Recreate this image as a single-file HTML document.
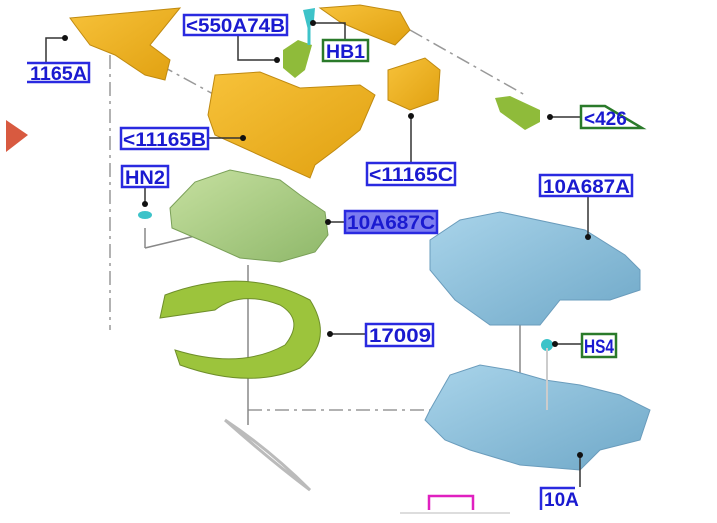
<!DOCTYPE html>
<html><head><style>
body{margin:0;background:#fff;}
svg{display:block}
.lb{font-family:"Liberation Sans",sans-serif;font-weight:bold;font-size:19px;fill:#1a1ad0}
</style></head><body>
<svg width="717" height="523" viewBox="0 0 717 523">
<defs>
<linearGradient id="or" x1="0" y1="0" x2="1" y2="1"><stop offset="0" stop-color="#f7c23a"/><stop offset="1" stop-color="#e0a010"/></linearGradient>
<linearGradient id="bl" x1="0" y1="0" x2="1" y2="1"><stop offset="0" stop-color="#a9d4ea"/><stop offset="1" stop-color="#6fa8c8"/></linearGradient>
<linearGradient id="gr" x1="0" y1="0" x2="1" y2="1"><stop offset="0" stop-color="#c6e0a0"/><stop offset="1" stop-color="#8fb86a"/></linearGradient>
</defs>
<g stroke="#999" stroke-width="1.5" fill="none" stroke-dasharray="14,5,3,5">
<line x1="110" y1="55" x2="110" y2="330"/>
<line x1="160" y1="65" x2="215" y2="95"/>
<line x1="410" y1="30" x2="525" y2="95"/>
<line x1="248" y1="410" x2="435" y2="410"/>
</g>
<g stroke="#888" stroke-width="1.5" fill="none">
<line x1="248" y1="265" x2="248" y2="425"/>
<line x1="520" y1="320" x2="520" y2="420"/>
<line x1="145" y1="228" x2="145" y2="248"/><line x1="145" y1="248" x2="220" y2="230"/>
</g>
<polygon points="6,120 28,135 6,152" fill="#d85a40"/>
<polygon points="70,18 180,8 150,45 170,60 165,80 145,75 115,55 90,45 75,25" fill="url(#or)" stroke="#c08a10"/>
<polygon points="215,75 260,72 300,88 360,85 375,95 360,130 335,150 315,165 310,178 215,135 208,115" fill="url(#or)" stroke="#c08a10"/>
<polygon points="388,70 425,58 440,70 438,100 410,110 388,100" fill="url(#or)" stroke="#c08a10"/>
<polygon points="320,8 360,5 400,12 410,30 395,45 370,35 340,22" fill="url(#or)" stroke="#c08a10"/>
<polygon points="283,50 298,40 312,45 305,70 295,78 283,68" fill="#8fbb3a"/>
<polygon points="303,10 315,8 314,20 308,30" fill="#3dc3c9"/>
<line x1="309" y1="20" x2="309" y2="45" stroke="#3dc3c9" stroke-width="3"/>
<polygon points="495,98 510,96 540,110 540,122 525,130 500,112" fill="#8fbb3a"/>
<polygon points="170,208 195,182 230,170 280,180 300,195 325,212 328,235 315,252 280,262 240,258 200,240 172,228" fill="url(#gr)" stroke="#7aa058"/>
<ellipse cx="145" cy="215" rx="7" ry="4" fill="#3dc3c9"/>
<path d="M160 318 L165 295 Q245 265 310 300 Q335 340 300 368 Q250 390 180 365 L175 350 Q240 370 285 345 Q305 320 280 305 Q240 290 215 310 Z" fill="#9cc43c" stroke="#6e8e2a"/>
<path d="M225 420 Q270 450 310 490 Q270 460 225 420" stroke="#bbb" stroke-width="3" fill="none"/>
<polygon points="430,240 460,220 500,212 585,230 625,255 640,270 640,290 610,300 560,300 540,325 490,325 455,300 430,270" fill="url(#bl)" stroke="#6a9cbc"/>
<polygon points="430,410 450,375 480,365 510,370 545,380 580,385 620,395 650,410 640,440 600,450 580,470 520,465 470,450 445,440 425,420" fill="url(#bl)" stroke="#6a9cbc"/>
<circle cx="547" cy="345" r="6" fill="#3dc3c9"/>
<line x1="547" y1="348" x2="547" y2="410" stroke="#ccc" stroke-width="2"/>
<g stroke="#333" stroke-width="1.5" fill="none">
<polyline points="27,72 46,72 46,38 65,38"/>
<polyline points="238,36 238,60 277,60"/>
<polyline points="313,23 345,23 345,40"/>
<polyline points="208,138 243,138"/>
<polyline points="145,187 145,204"/>
<line x1="328" y1="222" x2="345" y2="222"/>
<line x1="411" y1="116" x2="411" y2="163"/>
<line x1="550" y1="117" x2="581" y2="117"/>
<line x1="588" y1="196" x2="588" y2="237"/>
<line x1="330" y1="334" x2="366" y2="334"/>
<line x1="555" y1="344" x2="582" y2="344"/>
<polyline points="580,455 580,487"/>
</g>
<g fill="#111">
<circle cx="65" cy="38" r="3"/><circle cx="277" cy="60" r="3"/><circle cx="313" cy="23" r="3"/>
<circle cx="243" cy="138" r="3"/><circle cx="145" cy="204" r="3"/><circle cx="328" cy="222" r="3"/>
<circle cx="411" cy="116" r="3"/><circle cx="550" cy="117" r="3"/><circle cx="588" cy="237" r="3"/>
<circle cx="330" cy="334" r="3"/><circle cx="555" cy="344" r="3"/><circle cx="580" cy="455" r="3"/>
</g>
<g stroke-width="2.5" fill="#fff">
<polyline points="27,63 89,63 89,82 27,82" stroke="#2a2ae0"/>
<rect x="184" y="15" width="103" height="20" stroke="#2a2ae0"/>
<rect x="323" y="40" width="45" height="21" stroke="#2a7a2a"/>
<rect x="121" y="128" width="87" height="21" stroke="#2a2ae0"/>
<rect x="122" y="166" width="46" height="21" stroke="#2a2ae0"/>
<rect x="345" y="211" width="92" height="22" stroke="#2a2ae0" fill="#7d7df0"/>
<rect x="367" y="163" width="88" height="22" stroke="#2a2ae0"/>
<rect x="540" y="175" width="92" height="21" stroke="#2a2ae0"/>
<polygon points="581,106 605,106 642,128 581,128" stroke="#2a7a2a"/>
<rect x="366" y="324" width="67" height="22" stroke="#2a2ae0"/>
<rect x="582" y="334" width="34" height="23" stroke="#2a7a2a"/>
<polyline points="541,510 541,488 575,488" stroke="#2a2ae0"/>
<polyline points="429,510 429,496 473,496 473,510" stroke="#e020c0"/>
</g>
<text class="lb" x="30" y="80" textLength="57" lengthAdjust="spacingAndGlyphs">1165A</text>
<text class="lb" x="186" y="32" textLength="99" lengthAdjust="spacingAndGlyphs">&lt;550A74B</text>
<text class="lb" x="326" y="58" textLength="39" lengthAdjust="spacingAndGlyphs">HB1</text>
<text class="lb" x="123" y="146" textLength="83" lengthAdjust="spacingAndGlyphs">&lt;11165B</text>
<text class="lb" x="125" y="184" textLength="40" lengthAdjust="spacingAndGlyphs">HN2</text>
<text class="lb" x="347" y="229" textLength="88" lengthAdjust="spacingAndGlyphs">10A687C</text>
<text class="lb" x="369" y="181" textLength="84" lengthAdjust="spacingAndGlyphs">&lt;11165C</text>
<text class="lb" x="543" y="193" textLength="87" lengthAdjust="spacingAndGlyphs">10A687A</text>
<text class="lb" x="584" y="125">&lt;426</text>
<text class="lb" x="369" y="342" textLength="62" lengthAdjust="spacingAndGlyphs">17009</text>
<text class="lb" x="584" y="353" textLength="30" lengthAdjust="spacingAndGlyphs">HS4</text>
<text class="lb" x="544" y="506">10A</text>
<rect x="270" y="508" width="110" height="15" fill="#fff"/>
<line x1="400" y1="513" x2="510" y2="513" stroke="#ddd" stroke-width="2"/>
</svg>
</body></html>
